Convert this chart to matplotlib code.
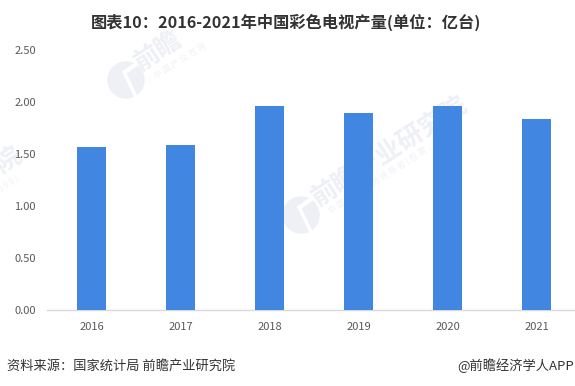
import matplotlib
matplotlib.use("Agg")
import matplotlib.pyplot as plt
from matplotlib.patches import Circle
from matplotlib.lines import Line2D

plt.rcParams['font.family'] = ['Noto Sans CJK SC', 'DejaVu Sans']

# Data
years = ["2016", "2017", "2018", "2019", "2020", "2021"]
output = [1.57, 1.58, 1.96, 1.89, 1.96, 1.84]
y_ticks = [0.0, 0.5, 1.0, 1.5, 2.0, 2.5]

W, H = 575, 386
fig = plt.figure(figsize=(W / 100, H / 100), dpi=100)

# axes runs past the right edge of the image, like the reference
ax = fig.add_axes([47 / W, (H - 309.5) / H, 534 / W, 259.5 / H], zorder=2)
ax.patch.set_alpha(0)

# watermarks sit behind the bars
wm_color = "#eef0f5"
wm_sub = "#f1f2f6"
for (px, py, label) in [(314, 200, "前瞻产业研究院"), (137, 65, "前瞻")]:
    fig.text(px / W, 1 - py / H, label, fontsize=18.5, color=wm_color, rotation=33,
             ha="left", va="center", fontweight="bold", zorder=0, rotation_mode="anchor")
fig.text(8 / W, 1 - 160 / H, "院", fontsize=18.5, color=wm_color, rotation=33,
         ha="center", va="center", fontweight="bold", zorder=0, rotation_mode="anchor")
for (px, py, label) in [(330, 212, "中 国 产 业 咨 询 领 导 者 ( 股 票 ： 8 3 9"),
                        (155, 77, "中 国 产 业 咨 询"),
                        (0, 190, "5 9 9 )")]:
    fig.text(px / W, 1 - py / H, label, fontsize=6, color=wm_sub, rotation=33,
             ha="left", va="center", zorder=0, rotation_mode="anchor")
for (cx, cy) in [(126, 80), (301, 215)]:
    fig.add_artist(Circle((cx, H - cy), 18, transform=None, color=wm_color, zorder=0))
    # white cut-out of the logo
    fig.add_artist(Line2D([cx - 2, cx + 11], [H - cy + 8, H - cy - 19], transform=None,
                          color="white", lw=2.5, zorder=0.5))
    fig.add_artist(Line2D([cx - 1, cx + 9], [H - cy + 8, H - cy + 15], transform=None,
                          color="white", lw=3, zorder=0.5))

ax.bar(range(len(years)), output, width=0.315, color="#4186e0", zorder=3)

ax.set_xlim(-0.5, 5.5)
ax.set_ylim(0, 2.5)
ax.set_xticks(range(len(years)))
ax.set_xticklabels(years)
ax.set_yticks(y_ticks)
ax.set_yticklabels([f"{v:.2f}" for v in y_ticks])
ax.tick_params(axis="both", length=0, labelsize=8, colors="#595959")
ax.tick_params(axis="x", pad=9)
ax.tick_params(axis="y", pad=8)
for side in ["top", "right", "left"]:
    ax.spines[side].set_visible(False)
ax.spines["bottom"].set_color("#d9d9d9")
ax.spines["bottom"].set_linewidth(1)

fig.text(286.5 / W, 1 - 22 / H, "图表10：2016-2021年中国彩色电视产量(单位：亿台)",
         fontsize=11.7, fontweight="bold", color="#333333", ha="center", va="center")
fig.text(7 / W, 1 - 366 / H, "资料来源：国家统计局 前瞻产业研究院",
         fontsize=9.5, color="#333333", ha="left", va="center")
fig.text(574 / W, 1 - 366 / H, "@前瞻经济学人APP",
         fontsize=9.5, color="#333333", ha="right", va="center")

fig.savefig("out.png", dpi=100)
